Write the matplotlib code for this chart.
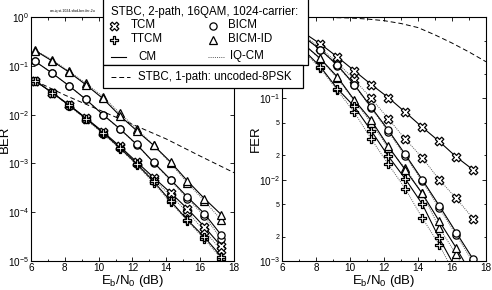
"""BER / FER of STBC 2-path 16QAM 1024-carrier coded modulation schemes (CM vs IQ-CM)."""

import numpy as np
import matplotlib

matplotlib.use("Agg")
import matplotlib.pyplot as plt  # noqa: E402
from matplotlib.lines import Line2D  # noqa: E402
from matplotlib.patches import Rectangle  # noqa: E402
from matplotlib.ticker import FixedLocator, FuncFormatter, NullLocator  # noqa: E402

plt.rcParams["font.family"] = ["Liberation Sans", "DejaVu Sans"]
plt.rcParams["mathtext.fontset"] = "custom"
plt.rcParams["mathtext.rm"] = "Liberation Sans"

# ---- data (log10 of error rate) ----------------------------------------------
ebn0_ber = [6.25, 7.25, 8.25, 9.25, 10.25, 11.25, 12.25, 13.25, 14.25, 15.25, 16.25, 17.25]
ber_tcm_cm = [-1.31, -1.55, -1.80, -2.07, -2.35, -2.65, -2.97, -3.29, -3.60, -3.93, -4.30, -4.70]
ber_tcm_iq = [-1.31, -1.55, -1.81, -2.08, -2.37, -2.67, -3.00, -3.33, -3.66, -4.00, -4.38, -4.78]
ber_ttcm_cm = [-1.31, -1.55, -1.81, -2.08, -2.37, -2.68, -3.01, -3.37, -3.77, -4.16, -4.51, -4.91]
ber_ttcm_iq = [-1.31, -1.55, -1.82, -2.10, -2.39, -2.70, -3.03, -3.40, -3.80, -4.18, -4.55, -4.95]
ber_bicm_cm = [-0.91, -1.15, -1.41, -1.69, -2.00, -2.29, -2.61, -2.98, -3.33, -3.69, -4.03, -4.47]
ber_bicm_iq = [-0.91, -1.15, -1.41, -1.69, -2.00, -2.30, -2.62, -2.99, -3.35, -3.72, -4.08, -4.55]
ber_bicmid_cm = [-0.69, -0.90, -1.13, -1.39, -1.67, -2.02, -2.33, -2.63, -2.97, -3.36, -3.72, -4.05]
ber_bicmid_iq = [-0.68, -0.88, -1.11, -1.36, -1.63, -1.97, -2.29, -2.63, -3.00, -3.40, -3.77, -4.16]
ebn0_unc_ber = [6.25, 8.0, 10.0, 12.0, 14.0, 16.0, 18.0]
ber_uncoded = [-1.31, -1.60, -1.90, -2.20, -2.50, -2.85, -3.19]

ebn0_fer = [7.25, 8.25, 9.25, 10.25, 11.25, 12.25, 13.25, 14.25, 15.25, 16.25, 17.25]
fer_tcm_cm = [-0.19, -0.33, -0.49, -0.66, -0.83, -0.99, -1.17, -1.355, -1.53, -1.72, -1.88]
fer_tcm_iq = [-0.22, -0.38, -0.56, -0.77, -1.00, -1.25, -1.50, -1.73, -2.00, -2.23, -2.48]
fer_bicm_cm = [-0.24, -0.40, -0.59, -0.83, -1.11, -1.39, -1.69, -2.00, -2.32, -2.65, -2.98]
fer_bicm_iq = [-0.24, -0.40, -0.60, -0.84, -1.12, -1.41, -1.71, -2.02, -2.35, -2.68, -3.02]
fer_bicmid_cm = [-0.33, -0.51, -0.735, -1.02, -1.27, -1.59, -1.88, -2.17, -2.51, -2.84, -3.20]
fer_bicmid_iq = [-0.33, -0.52, -0.75, -1.03, -1.30, -1.61, -1.86, -2.17, -2.59, -2.92, -3.30]
ebn0_fer_ttcm = [7.25, 8.25, 9.25, 10.25, 11.25, 12.25, 13.25, 14.25, 15.25, 16.25]
fer_ttcm_cm = [-0.40, -0.61, -0.88, -1.10, -1.40, -1.71, -1.99, -2.30, -2.72, -3.10]
fer_ttcm_iq = [-0.42, -0.63, -0.90, -1.17, -1.50, -1.81, -2.11, -2.47, -2.80, -3.20]
ebn0_unc_fer = [6.0, 8.0, 10.0, 11.0, 12.0, 13.0, 14.0, 15.0, 16.0, 17.0, 18.0]
fer_uncoded = [-0.001, -0.003, -0.012, -0.025, -0.045, -0.08, -0.13, -0.22, -0.32, -0.43, -0.55]

# ---- marker shapes ------------------------------------------------------------
_w = 0.32
PLUS = [(-_w, 1), (_w, 1), (_w, _w), (1, _w), (1, -_w), (_w, -_w), (_w, -1),
        (-_w, -1), (-_w, -_w), (-1, -_w), (-1, _w), (-_w, _w), (-_w, 1)]
_c, _s = np.cos(np.pi / 4), np.sin(np.pi / 4)
CROSS = [(x * _c - y * _s, x * _s + y * _c) for x, y in PLUS]

STY = {
    "tcm": dict(marker=CROSS, ms=6.2),
    "ttcm": dict(marker=PLUS, ms=6.2),
    "bicm": dict(marker="o", ms=5.2),
    "bicmid": dict(marker="^", ms=5.4),
}
CM_LINE = dict(color="black", lw=0.8, ls="-")
IQ_LINE = dict(color="0.35", lw=0.7, ls=(0, (1, 1.2)))
DASH = dict(color="black", lw=0.7, ls=(0, (5, 3)))


def _curve(ax, x, logy, kind, line):
    ax.plot(x, 10.0 ** np.asarray(logy), mfc="white", mec="black", mew=0.9,
            **STY[kind], **line)


def _style(ax, ymin, ylabel):
    ax.set_yscale("log")
    ax.set_xlim(6, 18)
    ax.set_ylim(ymin, 1)
    ax.set_xticks(range(6, 19, 2))
    ax.xaxis.set_minor_locator(FixedLocator(range(7, 18, 2)))
    ax.tick_params(which="both", direction="in", top=True, right=True, labelsize=7.2,
                   width=0.6, pad=1.5)
    ax.tick_params(which="major", length=3)
    ax.tick_params(which="minor", length=1.8)
    ax.set_xlabel(r"E$_\mathrm{b}$/N$_\mathrm{0}$ (dB)", fontsize=9.5)
    ax.xaxis.set_label_coords(0.5, -0.048)
    ax.set_ylabel(ylabel, fontsize=9.5)
    ax.yaxis.set_label_coords(-0.097, 0.5)
    for sp in ax.spines.values():
        sp.set_linewidth(0.8)


def _minor_label(v, pos):
    # 2 and 5 below 10^-1 only; the ones above are hidden by the legend box
    if v > 0.1:
        return ""
    return f"{v / 10 ** np.floor(np.log10(v) + 1e-9):.0f}"


fig = plt.figure(figsize=(4.92, 2.90), dpi=100)
axL = fig.add_axes([31 / 492, 1 - 261 / 290, 203 / 492, 244 / 290])
axR = fig.add_axes([282 / 492, 1 - 261 / 290, 204 / 492, 244 / 290])

# BER
axL.plot(ebn0_unc_ber, 10.0 ** np.asarray(ber_uncoded), **DASH)
for logy, kind, line in [
    (ber_bicmid_iq, "bicmid", IQ_LINE), (ber_bicmid_cm, "bicmid", CM_LINE),
    (ber_bicm_iq, "bicm", IQ_LINE), (ber_bicm_cm, "bicm", CM_LINE),
    (ber_tcm_iq, "tcm", IQ_LINE), (ber_tcm_cm, "tcm", CM_LINE),
    (ber_ttcm_iq, "ttcm", IQ_LINE), (ber_ttcm_cm, "ttcm", CM_LINE),
]:
    _curve(axL, ebn0_ber, logy, kind, line)
_style(axL, 1e-5, "BER")
axL.yaxis.set_minor_locator(NullLocator())
axL.text(0.205, 1.015, "cm-iq-st-1024-sfad-ber-fer-2u", transform=axL.transAxes,
         fontsize=2.5, ha="center", va="bottom")

# FER
axR.plot(ebn0_unc_fer, 10.0 ** np.asarray(fer_uncoded), **DASH)
for x, logy, kind, line in [
    (ebn0_fer, fer_tcm_iq, "tcm", IQ_LINE), (ebn0_fer, fer_tcm_cm, "tcm", CM_LINE),
    (ebn0_fer, fer_bicm_iq, "bicm", IQ_LINE), (ebn0_fer, fer_bicm_cm, "bicm", CM_LINE),
    (ebn0_fer, fer_bicmid_iq, "bicmid", IQ_LINE), (ebn0_fer, fer_bicmid_cm, "bicmid", CM_LINE),
    (ebn0_fer_ttcm, fer_ttcm_iq, "ttcm", IQ_LINE), (ebn0_fer_ttcm, fer_ttcm_cm, "ttcm", CM_LINE),
]:
    _curve(axR, x, logy, kind, line)
_style(axR, 1e-3, "FER")
axR.yaxis.set_major_locator(FixedLocator([1e-3, 1e-2, 1e-1]))
axR.yaxis.set_minor_locator(FixedLocator([2e-3, 5e-3, 2e-2, 5e-2, 2e-1, 5e-1]))
axR.yaxis.set_minor_formatter(FuncFormatter(_minor_label))
axR.tick_params(axis="y", which="minor", labelsize=5)


# ---- legend (two stacked boxes in figure pixels) ------------------------------
def fx(x):
    return x / 492


def fy(y):
    return 1 - y / 290


fig.add_artist(Rectangle((fx(103), fy(65)), fx(308) - fx(103), fy(-5) - fy(65),
                         transform=fig.transFigure, fc="white", ec="black", lw=0.9, zorder=5))
fig.add_artist(Rectangle((fx(103), fy(88)), fx(303) - fx(103), fy(65) - fy(88),
                         transform=fig.transFigure, fc="white", ec="black", lw=0.9, zorder=5))
tkw = dict(transform=fig.transFigure, fontsize=8.3, va="center", ha="left", zorder=6)
fig.text(fx(111), fy(12), "STBC, 2-path, 16QAM, 1024-carrier:", **tkw)
for (mx, my, kind, label, lx) in [
    (114, 25.5, "tcm", "TCM", 131), (114, 39.5, "ttcm", "TTCM", 131),
    (213, 25.5, "bicm", "BICM", 228), (213, 39.5, "bicmid", "BICM-ID", 228),
]:
    fig.add_artist(Line2D([fx(mx)], [fy(my)], transform=fig.transFigure, ls="none",
                          mfc="white", mec="black", mew=0.9, zorder=6, **STY[kind]))
    fig.text(fx(lx), fy(my), label, **tkw)
fig.add_artist(Line2D([fx(111), fx(126)], [fy(56.5)] * 2, transform=fig.transFigure,
                      zorder=6, **CM_LINE))
fig.text(fx(138), fy(56.5), "CM", **tkw)
fig.add_artist(Line2D([fx(208), fx(224)], [fy(56.5)] * 2, transform=fig.transFigure,
                      zorder=6, **IQ_LINE))
fig.text(fx(230), fy(56.5), "IQ-CM", **tkw)
fig.add_artist(Line2D([fx(111), fx(130)], [fy(77)] * 2, transform=fig.transFigure,
                      zorder=6, **DASH))
fig.text(fx(138), fy(77), "STBC, 1-path: uncoded-8PSK", **tkw)

fig.savefig("out.png", dpi=100)
